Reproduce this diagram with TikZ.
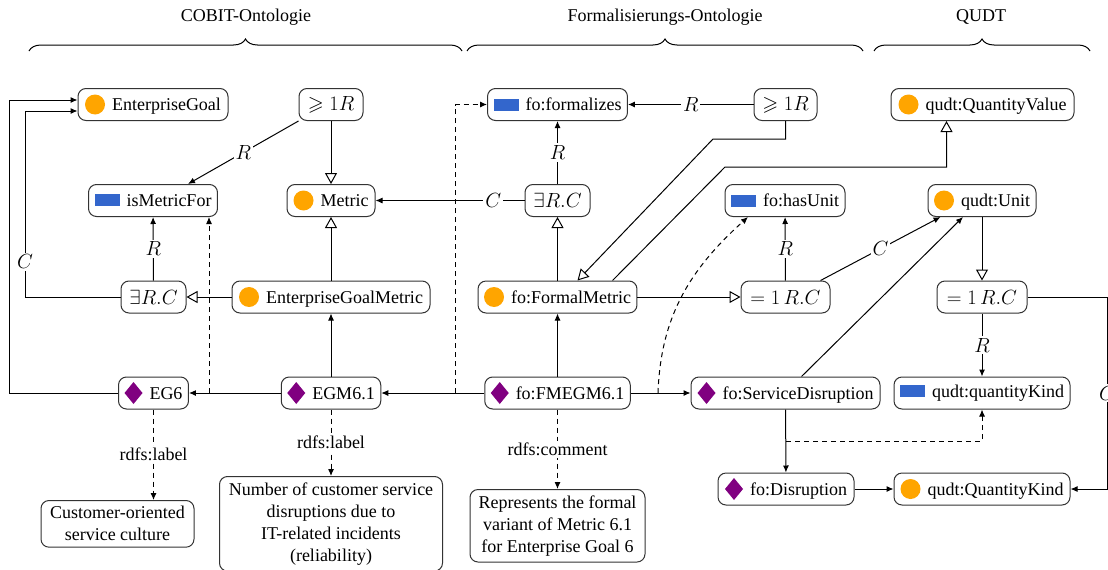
\RequirePackage{fix-cm}
\documentclass[tikz,border=0pt]{standalone}
\usepackage{amssymb}
\usepackage{fontspec}
\setmainfont{Liberation Serif}
\usetikzlibrary{arrows.meta,decorations.pathreplacing,calc}

\definecolor{clsorange}{HTML}{FFA500}
\definecolor{propblue}{HTML}{3366CC}
\definecolor{indpurple}{HTML}{800080}

% small glyphs marking classes, properties and individuals
\tikzset{icon/.style={sharp corners, baseline={([yshift=-6pt]current bounding box.center)}}}
\newcommand\clsicon{\tikz[icon]\fill[clsorange] (0pt,0pt) circle (10pt);\hspace{7pt}}
\newcommand\propicon{\tikz[icon]\fill[propblue] (0pt,0pt) rectangle (25pt,12pt);\hspace{7pt}}
\newcommand\indicon{\tikz[icon]\fill[indpurple] (0pt,11pt) -- (9pt,0pt) -- (0pt,-11pt) -- (-9pt,0pt) -- cycle;\hspace{7pt}}

\tikzset{
  box/.style={draw=black!80, rounded corners=8pt, minimum height=32pt, inner xsep=6pt, inner ysep=3pt, fill=white, line width=1pt},
  txtbox/.style={box, align=center, inner ysep=6pt, anchor=north},
  mth/.style={font=\fontsize{20.5}{24}\selectfont},
  arr/.style={-{Latex[length=7pt,width=6pt]}},
  sub/.style={-{Triangle[open,length=11pt,width=12pt]}},
  dsh/.style={dash pattern=on 5pt off 4pt},
  lbl/.style={fill=white, inner sep=2pt},
  grp/.style={decorate, decoration={brace, amplitude=12pt}},
}

\begin{document}
\begin{tikzpicture}[x=1pt,y=-1pt,line width=1pt,font=\fontsize{18}{22}\selectfont]
\useasboundingbox (0,0) rectangle (1108,570);

% ontology groups
\draw[grp] (29,51) -- (462,51);
\draw[grp] (467,51) -- (863,51);
\draw[grp] (874,51) -- (1090,51);
\node (tcobit) at (246,17) {COBIT-Ontologie};
\node (tform) at (665,17) {Formalisierungs-Ontologie};
\node (tqudt) at (981,17) {QUDT};

% row 1
\node[box,minimum width=150pt] (eg) at (153,104.5) {\clsicon EnterpriseGoal};
\node[box,mth,minimum width=64pt] (geqL) at (331,104.5) {$\geqslant 1R$};
\node[box,minimum width=139pt] (formalizes) at (557.5,104.5) {\propicon fo:formalizes};
\node[box,mth,minimum width=63pt] (geqR) at (785.5,104.5) {$\geqslant 1R$};
\node[box,minimum width=183pt] (qv) at (982.5,104.5) {\clsicon qudt:QuantityValue};

% row 2
\node[box,minimum width=128pt] (imf) at (153,200.5) {\propicon isMetricFor};
\node[box,minimum width=88pt] (metric) at (331,200.5) {\clsicon Metric};
\node[box,mth,minimum width=65pt] (exR) at (557.5,200.5) {$\exists R.C$};
\node[box,minimum width=118pt] (hasunit) at (785,200.5) {\propicon fo:hasUnit};
\node[box,minimum width=108pt] (unit) at (982,200.5) {\clsicon qudt:Unit};

% row 3
\node[box,mth,minimum width=65pt] (exL) at (153.5,297) {$\exists R.C$};
\node[box,minimum width=198pt] (egm) at (331,297) {\clsicon EnterpriseGoalMetric};
\node[box,minimum width=157pt] (fm) at (557.5,297) {\clsicon fo:FormalMetric};
\node[box,mth,minimum width=89pt] (eqM) at (785.5,297) {$=1\,R.C$};
\node[box,mth,minimum width=90pt] (eqR) at (982,297) {$=1\,R.C$};

% row 4
\node[box,minimum width=69pt] (eg6) at (153.5,393) {\indicon EG6};
\node[box,minimum width=96pt] (egm61) at (331,393) {\indicon EGM6.1};
\node[box,minimum width=137pt] (fmegm) at (557.5,393) {\indicon fo:FMEGM6.1};
\node[box,minimum width=189pt] (sd) at (785.5,393) {\indicon fo:ServiceDisruption};
\node[box,minimum width=176pt] (qkp) at (982,393) {\propicon qudt:quantityKind};

% row 5
\node[box,minimum width=136pt] (dis) at (786,489) {\indicon fo:Disruption};
\node[box,minimum width=176pt] (qk) at (982,489) {\clsicon qudt:QuantityKind};

% literal values
\node[txtbox,minimum width=153pt] (lit1) at (117.5,500) {Customer-oriented\\service culture};
\node[txtbox,minimum width=223pt] (lit2) at (331,476) {Number of customer service\\disruptions due to\\IT-related incidents\\(reliability)};
\node[txtbox,minimum width=175pt] (lit3) at (557.5,489) {Represents the formal\\variant of Metric 6.1\\for Enterprise Goal 6};

% points on edges where property assertions start
\coordinate (onEGM) at (209,393);
\coordinate (onFM) at (455,393);
\coordinate (onSD) at (658,393);
\coordinate (onDis) at (786,441);

% COBIT part
\draw[arr] (eg6.west) -| (9,100) -- ([yshift=4.5pt]eg.west);
\draw[arr] (exL.west) -- (25,297) -- node[lbl,mth,pos=0.19]{$C$} (25,111) -- ([yshift=-6.5pt]eg.west);
\draw[arr] (exL) -- node[lbl,mth]{$R$} (imf);
\draw[arr] (geqL.south west) -- node[lbl,mth]{$R$} ([xshift=35pt]imf.north);
\draw[sub] (geqL) -- (metric);
\draw[sub] (egm) -- (metric);
\draw[sub] (egm) -- (exL);
\draw[arr] (egm61) -- (egm);
\draw[arr] (egm61) -- (eg6);
\draw[arr,dsh] (onEGM) -- (onEGM |- imf.south);

% formalisation part
\draw[arr] (fmegm) -- (egm61);
\draw[arr,dsh] (onFM) |- (formalizes.west);
\draw[arr] (exR) -- node[lbl,mth,pos=0.21]{$C$} (metric);
\draw[arr] (exR) -- node[lbl,mth]{$R$} (formalizes);
\draw[sub] (fm) -- (exR);
\draw[arr] (fmegm) -- (fm);
\draw[arr] (geqR) -- node[lbl,mth]{$R$} (formalizes);
\draw[sub] (geqR.south) |- (713,139) -- ([xshift=20pt]fm.north);
\draw[sub] ([xshift=55pt]fm.north) -- (725,167) -| ([xshift=-36pt]qv.south);
\draw[sub] (fm) -- (eqM);
\draw[arr] (eqM) -- node[lbl,mth]{$R$} (hasunit);
\draw[arr] ([xshift=-10pt]eqM.north east) -- node[lbl,mth]{$C$} ([xshift=13pt]unit.south west);
\draw[arr] (fmegm) -- (sd);
\draw[arr,dsh] (onSD) to[out=88,in=222] ([xshift=-37pt]hasunit.south);

% QUDT part
\draw[arr] ([xshift=16pt]sd.north) -- ([xshift=-19pt]unit.south);
\draw[sub] (unit) -- (eqR);
\draw[arr] (eqR) -- node[lbl,mth]{$R$} (qkp);
\draw[arr] (eqR.east) -- (1107,297) -- node[lbl,mth]{$C$} (1107,489) -- (qk.east);
\draw[arr] (sd) -- (dis);
\draw[arr,dsh] (onDis) -| (qkp.south);
\draw[arr] (dis) -- (qk);

% annotations
\draw[arr,dsh] (eg6.south) -- node[lbl]{rdfs:label} (eg6.south |- lit1.north);
\draw[arr,dsh] (egm61) -- node[lbl]{rdfs:label} (lit2);
\draw[arr,dsh] (fmegm) -- node[lbl]{rdfs:comment} (lit3);
\end{tikzpicture}
\end{document}
